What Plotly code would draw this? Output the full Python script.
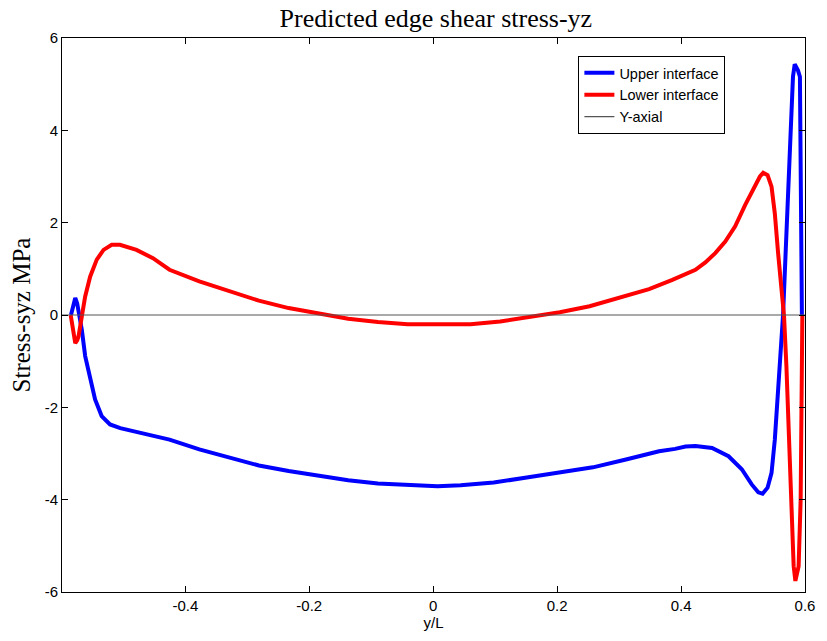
import plotly.graph_objects as go

# Upper interface shear stress along the edge
upper_x = [-0.5845, -0.5800, -0.5776, -0.5745, -0.5723, -0.5695, -0.5670, -0.5616,
           -0.5536, -0.5456, -0.5350, -0.5215, -0.5050, -0.4948, -0.4575, -0.4255,
           -0.3774, -0.3294, -0.2813, -0.2333, -0.1853, -0.1372, -0.0892, -0.0412,
           0.0069, 0.0442, 0.0977, 0.1510, 0.2043, 0.2578, 0.3111, 0.3645, 0.3904,
           0.4072, 0.4232, 0.4500, 0.4766, 0.4980, 0.5140, 0.5246, 0.5316, 0.5396,
           0.5460, 0.5513, 0.5566, 0.5610, 0.5646, 0.5685, 0.5726, 0.5770, 0.5806,
           0.5834, 0.5886, 0.5918, 0.5930, 0.5946, 0.5950]
upper_y = [0.00, 0.28, 0.37, 0.25, 0.11, -0.10, -0.32, -0.89,
           -1.40, -1.83, -2.19, -2.37, -2.45, -2.48, -2.60, -2.70,
           -2.91, -3.09, -3.26, -3.38, -3.49, -3.58, -3.65, -3.69,
           -3.71, -3.69, -3.63, -3.52, -3.42, -3.30, -3.13, -2.95, -2.90,
           -2.85, -2.84, -2.88, -3.06, -3.34, -3.67, -3.84, -3.87, -3.74,
           -3.42, -2.70, -1.62, -0.75, 0.00, 1.27, 2.71, 4.15, 5.16,
           5.43, 5.30, 5.16, 3.79, 1.63, 0.00]

# Lower interface shear stress along the edge
lower_x = [-0.5850, -0.5800, -0.5776, -0.5745, -0.5723, -0.5670, -0.5616, -0.5536,
           -0.5429, -0.5320, -0.5188, -0.5055, -0.4788, -0.4522, -0.4255, -0.3774,
           -0.3294, -0.2813, -0.2333, -0.1853, -0.1372, -0.0892, -0.0412, 0.0069,
           0.0602, 0.1082, 0.1563, 0.2043, 0.2524, 0.3004, 0.3484, 0.3859, 0.4232,
           0.4392, 0.4552, 0.4713, 0.4873, 0.5033, 0.5166, 0.5273, 0.5326, 0.5396,
           0.5460, 0.5513, 0.5566, 0.5620, 0.5662, 0.5700, 0.5742, 0.5780, 0.5817,
           0.5845, 0.5897, 0.5930, 0.5950, 0.5957]
lower_y = [0.00, -0.45, -0.61, -0.55, -0.46, -0.03, 0.40, 0.83,
           1.20, 1.41, 1.52, 1.52, 1.41, 1.23, 0.98, 0.73,
           0.51, 0.31, 0.15, 0.03, -0.08, -0.15, -0.20, -0.20,
           -0.20, -0.14, -0.04, 0.06, 0.19, 0.37, 0.56, 0.76, 0.98,
           1.14, 1.34, 1.59, 1.92, 2.38, 2.75, 3.00, 3.08, 3.03,
           2.78, 2.20, 1.34, 0.47, -0.03, -1.11, -2.91, -4.35, -5.44,
           -5.76, -5.44, -3.99, -1.83, 0.00]

# Reference axis line
axial_x = [-0.6, 0.6]
axial_y = [0, 0]

x_ticks = [-0.4, -0.2, 0, 0.2, 0.4, 0.6]
x_tick_labels = ["-0.4", "-0.2", "0", "0.2", "0.4", "0.6"]
y_ticks = [-6, -4, -2, 0, 2, 4, 6]
y_tick_labels = ["-6", "-4", "-2", "0", "2", "4", "6"]

sans = "Liberation Sans, Arial, sans-serif"
serif = "Liberation Serif, Times New Roman, serif"

fig = go.Figure()
fig.add_trace(go.Scatter(x=upper_x, y=upper_y, mode="lines", name="Upper interface",
                         line=dict(color="#0000ff", width=4)))
fig.add_trace(go.Scatter(x=lower_x, y=lower_y, mode="lines", name="Lower interface",
                         line=dict(color="#ff0000", width=4)))
fig.add_trace(go.Scatter(x=axial_x, y=axial_y, mode="lines", name="Y-axial",
                         line=dict(color="#555555", width=1.2)))

axis_common = dict(showline=True, linecolor="black", linewidth=1, mirror="ticks",
                   ticks="inside", ticklen=6, tickcolor="black", showgrid=False,
                   zeroline=False, tickfont=dict(family=sans, size=15, color="black"))

fig.update_layout(
    width=827, height=641,
    paper_bgcolor="white", plot_bgcolor="white",
    margin=dict(l=62, r=16, t=38, b=48),
    title=dict(text="Predicted edge shear stress-yz", x=0.527, xanchor="center",
               y=0.972, yanchor="middle",
               font=dict(family=serif, size=26, color="black")),
    xaxis=dict(range=[-0.599, 0.6], tickvals=x_ticks, ticktext=x_tick_labels,
               title=dict(text="y/L", font=dict(family=sans, size=15, color="black"),
                          standoff=4),
               **axis_common),
    yaxis=dict(range=[-6, 6], tickvals=y_ticks, ticktext=y_tick_labels,
               title=dict(text="Stress-syz MPa", font=dict(family=serif, size=25, color="black"),
                          standoff=6),
               **axis_common),
    legend=dict(x=0.695, xanchor="left", y=0.9676, yanchor="top",
                bgcolor="white", bordercolor="black", borderwidth=1,
                font=dict(family=sans, size=14.5, color="black"),
                tracegroupgap=0),
    showlegend=True,
)

fig.write_html("out.html")
